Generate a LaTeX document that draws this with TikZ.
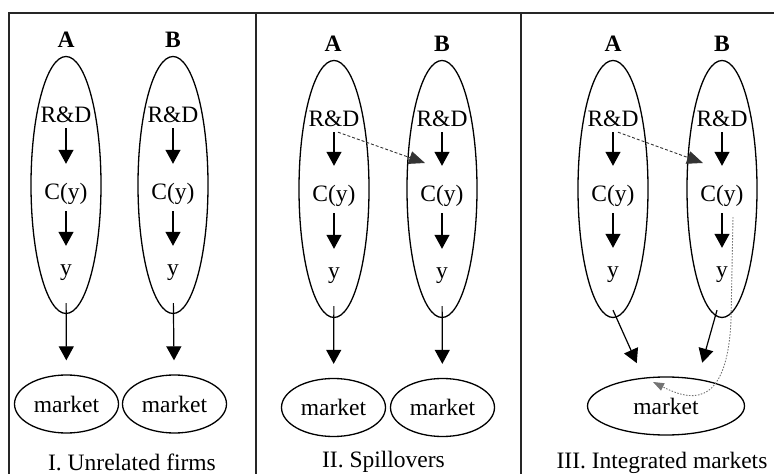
\documentclass[tikz,border=0pt]{standalone}
\usepackage{fontspec}
\setmainfont{Liberation Serif}
\usetikzlibrary{shapes.geometric,arrows.meta}
\begin{document}
\begin{tikzpicture}[x=1bp,y=-1bp,
  every node/.style={font=\fontsize{23.5bp}{28bp}\selectfont},
  lbl/.style={inner sep=0pt, text height=16bp, text depth=5bp, anchor=base},
  firm/.style={draw, ellipse, line width=1.3bp, inner sep=0pt, minimum width=70bp, minimum height=257bp},
  mkt/.style={draw, ellipse, line width=1.3bp, inner sep=0pt, minimum width=104bp, minimum height=58bp},
  flow/.style={line width=1.2bp, -{Triangle[width=15bp,length=14bp]}},
  flowA/.style={flow, shorten >=20bp},
  flowB/.style={flow, shorten <=6bp, shorten >=14bp},
  flowC/.style={flow, shorten <=22bp, shorten >=14bp},
  spill/.style={line width=0.9bp, black!80, dash pattern=on 3bp off 2bp, -{Triangle[width=13bp,length=16bp]}},
  back/.style={line width=0.9bp, black!55, dash pattern=on 1.5bp off 1.5bp, -{Triangle[width=8bp,length=11bp]}},
  frame/.style={line width=2bp, black!85}
]
\useasboundingbox (0,0) rectangle (774,474);

% panel frame
\draw[frame] (8.5,474) -- (8.5,13.5) -- (774,13.5);
\draw[frame] (256,13.5) -- (256,474);
\draw[frame] (521,13.5) -- (521,474);

% ---------- I. Unrelated firms ----------
\node[firm] (fA1) at (66,185) {};
\node[firm] (fB1) at (173,185) {};
\node[lbl] (nA1) at (66,48) {\textbf{A}};
\node[lbl] (nB1) at (173,48) {\textbf{B}};
\node[lbl] (rdA1) at (66,123) {R\&D};
\node[lbl] (rdB1) at (173,123) {R\&D};
\node[lbl] (cyA1) at (66,200) {C(y)};
\node[lbl] (cyB1) at (173,200) {C(y)};
\node[lbl] (yA1) at (66,276) {y};
\node[lbl] (yB1) at (173,276) {y};
\node[mkt] (mA1) at (66.5,404) {market};
\node[mkt] (mB1) at (174.5,404) {market};
\draw[flowA] (rdA1) -- (cyA1);
\draw[flowB] (cyA1) -- (yA1);
\draw[flowC] (yA1) -- (mA1);
\draw[flowA] (rdB1) -- (cyB1);
\draw[flowB] (cyB1) -- (yB1);
\draw[flowC] (yB1) -- (mB1);
\node[lbl] (cap1) at (132,470) {I. Unrelated firms};

% ---------- II. Spillovers ----------
\node[firm] (fA2) at (334,189) {};
\node[firm] (fB2) at (442,189) {};
\node[lbl] (nA2) at (333,52) {\textbf{A}};
\node[lbl] (nB2) at (442,52) {\textbf{B}};
\node[lbl] (rdA2) at (334,127) {R\&D};
\node[lbl] (rdB2) at (442,127) {R\&D};
\node[lbl] (cyA2) at (334,202) {C(y)};
\node[lbl] (cyB2) at (442,202) {C(y)};
\node[lbl] (yA2) at (334,279) {y};
\node[lbl] (yB2) at (442,279) {y};
\node[mkt] (mA2) at (333.5,407.5) {market};
\node[mkt] (mB2) at (442.5,407.5) {market};
\draw[flowA] (rdA2) -- (cyA2);
\draw[flowB] (cyA2) -- (yA2);
\draw[flowC] (yA2) -- (mA2);
\draw[flowA] (rdB2) -- (cyB2);
\draw[flowB] (cyB2) -- (yB2);
\draw[flowC] (yB2) -- (mB2);
\coordinate (hit2) at (425,163);
\draw[spill] ([xshift=4bp]rdA2.south) -- (hit2);
\node[lbl] (cap2) at (383.5,467) {II. Spillovers};

% ---------- III. Integrated markets ----------
\node[firm] (fA3) at (613,189) {};
\node[firm] (fB3) at (722,189) {};
\node[lbl] (nA3) at (613,52) {\textbf{A}};
\node[lbl] (nB3) at (722,52) {\textbf{B}};
\node[lbl] (rdA3) at (613,127) {R\&D};
\node[lbl] (rdB3) at (722,127) {R\&D};
\node[lbl] (cyA3) at (613,202) {C(y)};
\node[lbl] (cyB3) at (722,202) {C(y)};
\node[lbl] (yA3) at (613,278) {y};
\node[lbl] (yB3) at (722,278) {y};
\node[mkt, minimum width=157bp] (m3) at (666,406) {market};
\draw[flowA] (rdA3) -- (cyA3);
\draw[flowB] (cyA3) -- (yA3);
\draw[flowA] (rdB3) -- (cyB3);
\draw[flowB] (cyB3) -- (yB3);
\draw[flow, shorten >=47bp] ([yshift=8bp]fA3.south) -- ([xshift=-10bp]m3.center);
\draw[flow, shorten >=45bp] ([xshift=-5bp,yshift=8bp]fB3.south) -- ([xshift=24bp]m3.center);
\coordinate (hit3) at (703,163);
\draw[spill] ([xshift=5bp]rdA3.south) -- (hit3);
\coordinate (mIn) at (653,382);
\draw[back] ([xshift=11bp,yshift=-10bp]cyB3.south) -- (731,320)
  .. controls (727,415) and (685,398) .. (mIn);
\node[lbl] (cap3) at (662,468) {III. Integrated markets};
\end{tikzpicture}
\end{document}
